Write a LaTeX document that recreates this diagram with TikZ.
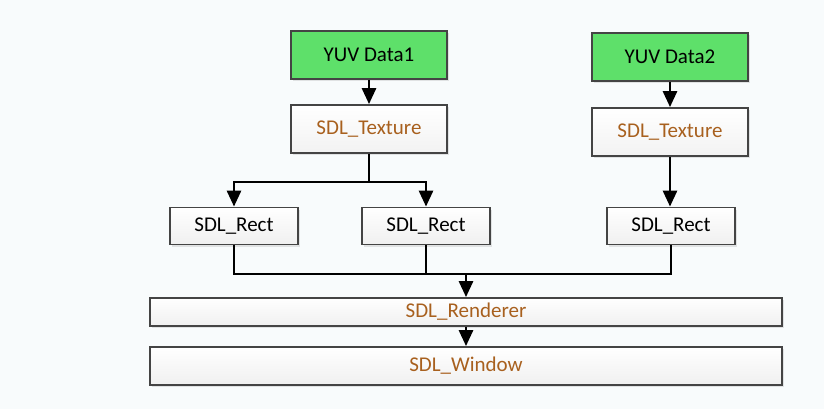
\documentclass[tikz,border=0pt]{standalone}
\usepackage{fontspec}
\setmainfont{Carlito}
\usepackage{tikz}
\usetikzlibrary{shapes.misc,shadows,arrows.meta}
\definecolor{bgcol}{HTML}{F8FBFC}
\definecolor{boxline}{HTML}{444444}
\definecolor{yuvgreen}{HTML}{5EE06A}
\definecolor{sdltext}{HTML}{A8601E}

\begin{document}
\begin{tikzpicture}[x=1pt,y=-1pt,
	box/.style={draw=boxline,line width=1.8pt,rectangle,inner sep=0pt,
		font=\fontsize{21}{24}\selectfont,
		drop shadow={shadow xshift=2pt,shadow yshift=-2pt,opacity=0.2}},
	data/.style={box,fill=yuvgreen,minimum width=156pt,minimum height=48pt},
	tex/.style={box,top color=white,bottom color=gray!10,text=sdltext,minimum width=156pt,minimum height=48pt},
	rectbox/.style={box,top color=white,bottom color=gray!12,minimum width=128pt,minimum height=37pt},
	bar/.style={box,top color=white,bottom color=gray!12,text=sdltext,minimum width=632pt},
	link/.style={line width=2.8pt,black},
	tip/.style={-{Triangle[length=16pt,width=14pt]}},
	]
	\fill[bgcol] (0,0) rectangle (824,409);
	\useasboundingbox (0,0) rectangle (824,409);
	\node[data] (yuv1) at (369,55) {YUV Data1};
	\node[data] (yuv2) at (670,57) {YUV Data2};
	\node[tex] (tex1) at (369,129) {SDL\_Texture};
	\node[tex] (tex2) at (670,132) {SDL\_Texture};
	\node[rectbox] (rect1) at (234,226) {SDL\_Rect};
	\node[rectbox] (rect2) at (426,226) {SDL\_Rect};
	\node[rectbox] (rect3) at (671,226) {SDL\_Rect};
	\node[bar,minimum height=28pt] (render) at (466,312) {SDL\_Renderer};
	\node[bar,minimum height=38pt] (window) at (466,366) {SDL\_Window};
	\coordinate (split) at (369,182);
	\coordinate (join) at (466,274);
	\draw[link,tip] (yuv1) -- (tex1);
	\draw[link,tip] (yuv2) -- (tex2);
	\draw[link,tip] (tex2.south) -- (tex2.south |- rect3.north);
	\draw[link] (tex1.south) -- (split);
	\draw[link,tip] (split) -| (rect1.north);
	\draw[link,tip] (split) -| (rect2.north);
	\draw[link] (rect1.south) |- (join);
	\draw[link] (rect3.south) |- (join);
	\draw[link] (rect2.south) -- (rect2.south |- join);
	\draw[link,tip] (join) -- (render.north);
	\draw[link,tip] (render.south) -- (window.north);
\end{tikzpicture}
\end{document}
